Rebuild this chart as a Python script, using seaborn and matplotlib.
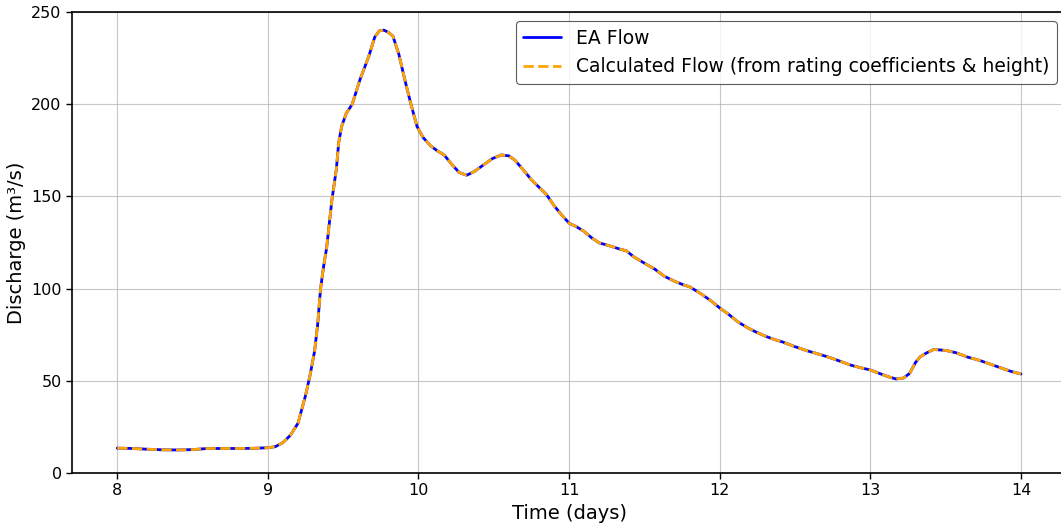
import matplotlib
matplotlib.use("Agg")
import matplotlib.pyplot as plt
import seaborn as sns
import pandas as pd

# Time since start of record (days) and discharge (m³/s)
time_days = [
    8.00, 8.10, 8.20, 8.30, 8.40, 8.50, 8.60, 8.70, 8.80, 8.90,
    9.00, 9.05, 9.10, 9.15, 9.20, 9.25, 9.28, 9.31, 9.33, 9.35,
    9.37, 9.39, 9.425, 9.455, 9.47, 9.49, 9.52, 9.56, 9.61, 9.67,
    9.71, 9.74, 9.77, 9.80, 9.83, 9.87, 9.91, 9.95, 9.99, 10.03,
    10.08, 10.12, 10.17, 10.22, 10.27, 10.32, 10.37, 10.43, 10.49, 10.55,
    10.60, 10.64, 10.70, 10.75, 10.80, 10.85, 10.90, 10.95, 11.00, 11.05,
    11.10, 11.15, 11.20, 11.27, 11.33, 11.38, 11.43, 11.50, 11.57, 11.63,
    11.70, 11.76, 11.80, 11.87, 11.94, 12.00, 12.06, 12.12, 12.18, 12.24,
    12.30, 12.36, 12.42, 12.50, 12.58, 12.64, 12.72, 12.80, 12.87, 12.94,
    13.00, 13.06, 13.12, 13.17, 13.22, 13.26, 13.30, 13.33, 13.37, 13.42,
    13.50, 13.57, 13.64, 13.72, 13.78, 13.86, 13.93, 14.00,
]

ea_flow = [
    13.5, 13.3, 12.9, 12.6, 12.5, 12.7, 13.3, 13.3, 13.3, 13.4,
    13.7, 14.3, 16.5, 20.5, 27.0, 42.0, 53.0, 66.0, 80.0, 100.0,
    112.0, 122.0, 148.0, 165.0, 179.0, 188.0, 195.0, 200.0, 213.0, 226.0,
    236.5, 239.8, 240.2, 239.0, 237.0, 227.0, 213.0, 200.0, 188.0, 182.0,
    177.5, 175.0, 172.5, 167.5, 163.0, 161.5, 163.5, 167.0, 170.5, 172.5,
    172.0, 169.7, 164.0, 159.0, 155.0, 151.0, 145.0, 140.0, 135.5, 133.5,
    131.0, 127.5, 124.8, 123.2, 121.6, 120.5, 117.2, 113.8, 110.5, 106.8,
    104.0, 102.0, 101.0, 97.5, 93.5, 89.5, 86.0, 82.0, 79.0, 76.5,
    74.3, 72.5, 71.0, 68.5, 66.3, 64.9, 62.9, 60.6, 58.5, 57.0,
    55.9, 54.0, 52.2, 51.0, 51.5, 54.0, 60.0, 63.0, 65.0, 67.0,
    66.5, 65.2, 63.0, 61.2, 59.5, 57.2, 55.2, 53.7,
]

calc_flow = [
    13.5, 13.3, 12.9, 12.6, 12.5, 12.7, 13.3, 13.3, 13.3, 13.4,
    13.7, 14.3, 16.5, 20.5, 27.0, 42.0, 53.0, 66.0, 80.0, 100.0,
    112.0, 122.0, 148.0, 165.0, 179.0, 188.0, 195.0, 200.0, 213.0, 226.0,
    236.5, 239.8, 240.2, 239.0, 237.0, 227.0, 213.0, 200.0, 188.0, 182.0,
    177.5, 175.0, 172.5, 167.5, 163.0, 161.5, 163.5, 167.0, 170.5, 172.5,
    172.0, 169.7, 164.0, 159.0, 155.0, 151.0, 145.0, 140.0, 135.5, 133.5,
    131.0, 127.5, 124.8, 123.2, 121.6, 120.5, 117.2, 113.8, 110.5, 106.8,
    104.0, 102.0, 101.0, 97.5, 93.5, 89.5, 86.0, 82.0, 79.0, 76.5,
    74.3, 72.5, 71.0, 68.5, 66.3, 64.9, 62.9, 60.6, 58.5, 57.0,
    55.9, 54.0, 52.2, 51.0, 51.5, 54.0, 60.0, 63.0, 65.0, 67.0,
    66.5, 65.2, 63.0, 61.2, 59.5, 57.2, 55.2, 53.7,
]

df = pd.DataFrame({"time": time_days, "ea": ea_flow, "calc": calc_flow})

sns.set_theme(style="ticks", rc={
    "text.color": "black",
    "axes.labelcolor": "black",
    "xtick.color": "black",
    "ytick.color": "black",
    "axes.edgecolor": "black",
})
plt.rcParams["font.family"] = ["DejaVu Sans"]

fig = plt.figure(figsize=(10.61, 5.24), dpi=100)
ax = fig.add_axes([0.0679, 0.0973, 0.937, 0.8797])

sns.lineplot(data=df, x="time", y="ea", ax=ax, color="blue", linewidth=2,
             label="EA Flow")
sns.lineplot(data=df, x="time", y="calc", ax=ax, color="orange", linewidth=2,
             linestyle="--", label="Calculated Flow (from rating coefficients & height)")

ax.set_xlim(7.7, 14.3)
ax.set_ylim(0, 250)
ax.set_xticks([8, 9, 10, 11, 12, 13, 14])
ax.set_yticks([0, 50, 100, 150, 200, 250])
ax.grid(True, color="#b0b0b0", linewidth=0.8, alpha=0.7)
ax.tick_params(labelsize=11.5, colors="black", length=4, width=1)
for s in ax.spines.values():
    s.set_color("black")
    s.set_linewidth(1.2)

ax.set_xlabel("Time (days)", fontsize=14)
ax.set_ylabel("Discharge (m³/s)", fontsize=14)

leg = ax.legend(loc="upper right", fontsize=13.5, frameon=True)
leg.get_frame().set_edgecolor("#333333")
leg.get_frame().set_linewidth(0.8)

fig.savefig("out.png", dpi=100)
